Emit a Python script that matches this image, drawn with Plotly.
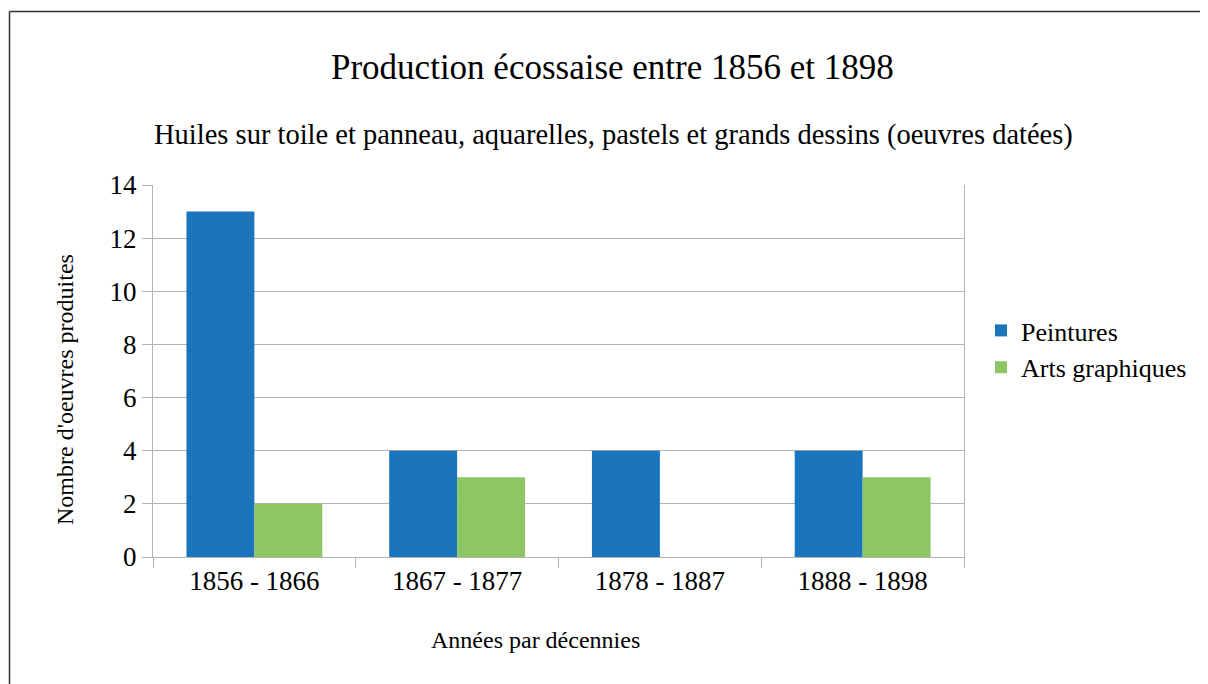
import plotly.graph_objects as go

categories = ["1856 - 1866", "1867 - 1877", "1878 - 1887", "1888 - 1898"]
peintures = [13, 4, 4, 4]
arts_graphiques = [2, 3, 0, 3]
series_names = ["Peintures", "Arts graphiques"]
title_text = "Production écossaise entre 1856 et 1898"
subtitle_text = "Huiles sur toile et panneau, aquarelles, pastels et grands dessins (oeuvres datées)"
x_title = "Années par décennies"
y_title = "Nombre d'oeuvres produites"

OFF = 8  # page body margin
W, H = 1208 - OFF, 684 - OFF
L, R, T, B = 153 - OFF, 1208 - 964, 185 - OFF, 684 - 557
pw, ph = W - L - R, H - T - B

def px(x):
    return (x - OFF - L) / pw

def py(y):
    return (H - B - (y - OFF)) / ph

FONT = "Liberation Serif"
GRID = "#b3b3b3"

fig = go.Figure()
fig.add_trace(go.Bar(x=categories, y=peintures, name=series_names[0],
                     marker=dict(color="#1b75bc", line=dict(width=0))))
fig.add_trace(go.Bar(x=categories, y=arts_graphiques, name=series_names[1],
                     marker=dict(color="#8cc665", line=dict(width=0))))

fig.update_layout(
    width=W, height=H,
    margin=dict(l=L, r=R, t=T, b=B, autoexpand=False),
    paper_bgcolor="white", plot_bgcolor="white",
    font=dict(family=FONT, color="black", size=27),
    barmode="group", bargap=0.33, bargroupgap=0,
    showlegend=True,
    legend=dict(x=px(981), y=py(307), xanchor="left", yanchor="top",
                font=dict(family=FONT, size=26), itemwidth=30,
                tracegroupgap=0, bgcolor="rgba(0,0,0,0)"),
    xaxis=dict(type="category", showline=True, linecolor=GRID, linewidth=1,
               ticks="outside", tickson="boundaries", ticklen=10, tickcolor=GRID,
               tickfont=dict(family=FONT, size=27), showgrid=False),
    yaxis=dict(range=[0, 14], dtick=2, showline=True, mirror=True, linecolor=GRID,
               linewidth=1, ticks="outside", ticklen=10, tickcolor=GRID,
               showgrid=True, gridcolor=GRID, gridwidth=1, zeroline=False,
               tickfont=dict(family=FONT, size=27)),
)

fig.add_annotation(text=title_text, x=px(612), y=py(67), xref="paper", yref="paper",
                   showarrow=False, font=dict(family=FONT, size=35),
                   xanchor="center", yanchor="middle")
fig.add_annotation(text=subtitle_text, x=px(613), y=py(135), xref="paper", yref="paper",
                   showarrow=False, font=dict(family=FONT, size=28.5),
                   xanchor="center", yanchor="middle")
fig.add_annotation(text=x_title, x=px(535), y=py(640), xref="paper", yref="paper",
                   showarrow=False, font=dict(family=FONT, size=24),
                   xanchor="center", yanchor="middle")
fig.add_annotation(text=y_title, x=px(65), y=py(390), xref="paper", yref="paper",
                   showarrow=False, font=dict(family=FONT, size=24), textangle=-90,
                   xanchor="center", yanchor="middle")

# outer frame (left and top edges visible)
fig.add_shape(type="line", xref="paper", yref="paper",
              x0=px(9.5), x1=px(1210), y0=py(11.5), y1=py(11.5),
              line=dict(color="#333333", width=1.5))
fig.add_shape(type="line", xref="paper", yref="paper",
              x0=px(9.5), x1=px(9.5), y0=py(11.5), y1=py(690),
              line=dict(color="#333333", width=1.5))

fig.write_html("out.html")
